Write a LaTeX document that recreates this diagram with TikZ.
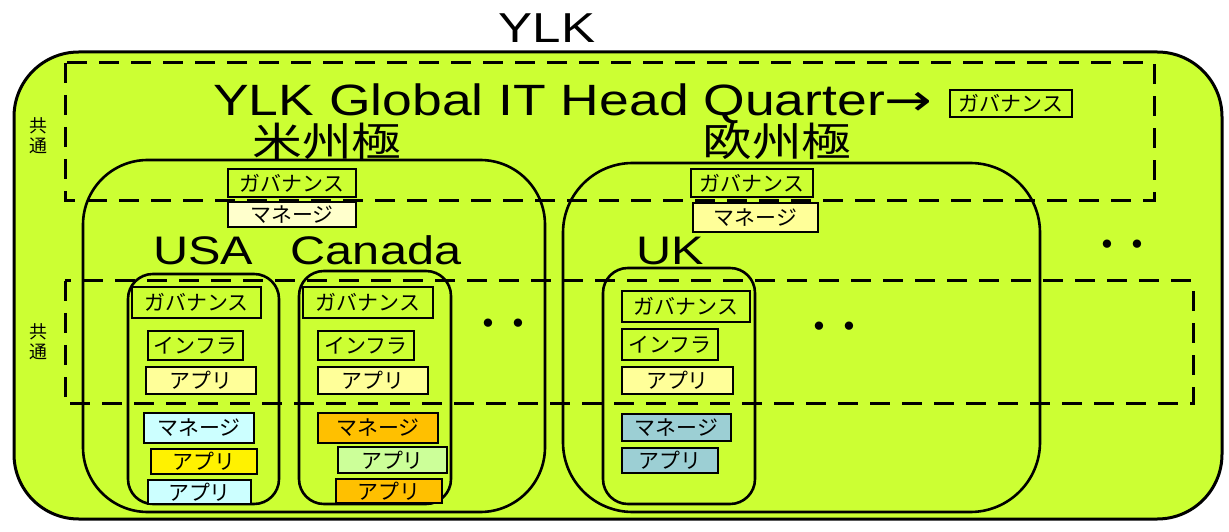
\documentclass[tikz,border=0pt]{standalone}
\usepackage{fontspec}
\setmainfont{Liberation Sans}
\newfontfamily\widefont[FakeStretch=1.22]{Liberation Sans}
\newfontfamily\jp{Noto Sans CJK JP}
\newfontfamily\jpwide[FakeStretch=1.25]{Noto Sans CJK JP}
\newfontfamily\arrowfont[FakeStretch=1.3]{DejaVu Sans}
\definecolor{ylkgreen}{HTML}{CCFF33}
\definecolor{paleyel}{HTML}{FFFFCC}
\definecolor{ltyel}{HTML}{FFFF99}
\definecolor{ltcyan}{HTML}{CCFFFF}
\definecolor{ltgreen}{HTML}{CCFF99}
\definecolor{amber}{HTML}{FFC000}
\definecolor{teal}{HTML}{9CCFD4}
\tikzset{
  lbl/.style={draw, line width=2.8bp, inner sep=0pt, font=\jp\fontsize{21}{21}\selectfont},
  grp/.style={draw, line width=3bp, dash pattern=on 20bp off 12bp},
  area/.style={draw, line width=2.6bp, rounded corners=#1},
  big/.style={inner sep=0pt, font=\widefont\fontsize{40}{40}\selectfont},
  kyoku/.style={inner sep=0pt, font=\jpwide\fontsize{40}{40}\selectfont},
  dots/.style={inner sep=0pt, font=\jp\fontsize{30}{30}\selectfont\bfseries},
  side/.style={inner sep=0pt, align=center, font=\jp\fontsize{18}{20}\selectfont}
}
\begin{document}
\begin{tikzpicture}[x=1bp, y=-1bp]
    \useasboundingbox (0,0) rectangle (1229,532);
    % whole group
    \draw[area=65, fill=ylkgreen, line width=3bp] (14,52) rectangle (1222,519);
    \node[inner sep=0pt, font=\widefont\fontsize{42}{42}\selectfont] (ylk) at (547,28) {YLK};
    % common layers
    \draw[grp] (65,63) rectangle (1154,201);
    \draw[grp] (65,281) rectangle (1193,404);
    \node[side] (com1) at (38,136) {共\\通};
    \node[side] (com2) at (38,342) {共\\通};
    % head quarter
    \node[anchor=base west, inner sep=0pt, font=\widefont\fontsize{44}{44}\selectfont] (hq) at (213,116)
        {YLK Global IT Head Quarter{\arrowfont →}};
    \node[lbl, minimum width=122bp, minimum height=27bp] (hqGov) at (1011,103.5) {ガバナンス};
    % regions
    \draw[area=65] (83,160) rectangle (545,512);
    \draw[area=70] (563,163) rectangle (1040,512);
    \node[kyoku] (am) at (327,141) {米州極};
    \node[kyoku] (eu) at (777,141) {欧州極};
    \node[lbl, minimum width=128bp, minimum height=28bp] (amGov) at (292,183) {ガバナンス};
    \node[lbl, fill=paleyel, minimum width=128bp, minimum height=25bp] (amMng) at (292,214.5) {マネージ};
    \node[lbl, minimum width=122bp, minimum height=28bp] (euGov) at (752,183) {ガバナンス};
    \node[lbl, fill=ltyel, minimum width=125bp, minimum height=29bp] (euMng) at (755.5,217.5) {マネージ};
    % countries
    \node[big, anchor=base] (usa) at (203,265) {USA};
    \node[big, anchor=base] (can) at (376,265) {Canada};
    \node[big, anchor=base] (uk) at (670,265) {UK};
    \draw[area=25] (128,274) rectangle (279,504);
    \draw[area=25] (299,271) rectangle (451,504);
    \draw[area=25] (603,268) rectangle (755,504);
    % USA
    \node[lbl, minimum width=129bp, minimum height=31bp] (usGov) at (196.5,302.5) {ガバナンス};
    \node[lbl, minimum width=95bp, minimum height=29bp] (usInf) at (195.5,345.5) {インフラ};
    \node[lbl, fill=ltyel, minimum width=110bp, minimum height=27bp] (usApp) at (201,380.5) {アプリ};
    \node[lbl, fill=ltcyan, minimum width=110bp, minimum height=30bp] (usMng) at (199,428) {マネージ};
    \node[lbl, fill=yellow, minimum width=106bp, minimum height=25bp] (usAppB) at (204,461.5) {アプリ};
    \node[lbl, fill=ltcyan, minimum width=103bp, minimum height=24bp] (usAppC) at (199.5,492) {アプリ};
    % Canada
    \node[lbl, minimum width=130bp, minimum height=31bp] (caGov) at (368,302.5) {ガバナンス};
    \node[lbl, minimum width=96bp, minimum height=29bp] (caInf) at (366,345.5) {インフラ};
    \node[lbl, fill=ltyel, minimum width=110bp, minimum height=27bp] (caApp) at (373,380.5) {アプリ};
    \node[lbl, fill=amber, minimum width=120bp, minimum height=30bp] (caMng) at (378,428) {マネージ};
    \node[lbl, fill=ltgreen, minimum width=109bp, minimum height=26bp] (caAppB) at (392.5,460) {アプリ};
    \node[lbl, fill=amber, minimum width=106bp, minimum height=24bp] (caAppC) at (389,491) {アプリ};
    % UK
    \node[lbl, minimum width=128bp, minimum height=31bp] (ukGov) at (686,306.5) {ガバナンス};
    \node[lbl, minimum width=96bp, minimum height=31bp] (ukInf) at (670,344.5) {インフラ};
    \node[lbl, fill=ltyel, minimum width=111bp, minimum height=27bp] (ukApp) at (677.5,380.5) {アプリ};
    \node[lbl, fill=teal, minimum width=109bp, minimum height=27bp] (ukMng) at (676.5,427.5) {マネージ};
    \node[lbl, fill=teal, minimum width=96bp, minimum height=25bp] (ukAppB) at (670,460.5) {アプリ};
    % others
    \node[dots] (more1) at (503,327) {・・};
    \node[dots] (more2) at (834,330) {・・};
    \node[dots] (more3) at (1122,248) {・・};
\end{tikzpicture}
\end{document}
